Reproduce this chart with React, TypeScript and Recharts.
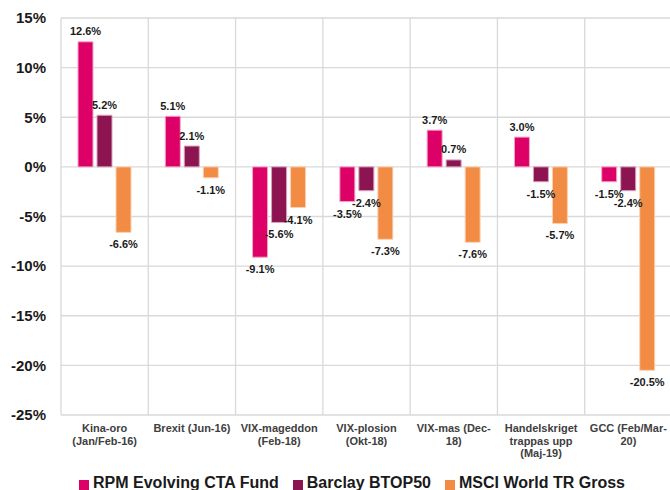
import React from "react";
import {
  BarChart,
  Bar,
  XAxis,
  YAxis,
  CartesianGrid,
  Legend,
  LabelList,
} from "recharts";

const FONT = "Arial, 'Liberation Sans', sans-serif";

// event names, line breaks as in the original axis labels
const categories = [
  "Kina-oro\n(Jan/Feb-16)",
  "Brexit (Jun-16)",
  "VIX-mageddon\n(Feb-18)",
  "VIX-plosion\n(Okt-18)",
  "VIX-mas (Dec-\n18)",
  "Handelskriget\ntrappas upp\n(Maj-19)",
  "GCC (Feb/Mar-\n20)",
];

const rpm = [12.6, 5.1, -9.1, -3.5, 3.7, 3.0, -1.5];
const btop50 = [5.2, 2.1, -5.6, -2.4, 0.7, -1.5, -2.4];
const msci = [-6.6, -1.1, -4.1, -7.3, -7.6, -5.7, -20.5];

const yTicks = [-25, -20, -15, -10, -5, 0, 5, 10, 15];

const seriesNames = ["RPM Evolving CTA Fund", "Barclay BTOP50", "MSCI World TR Gross"];
const seriesColors = ["#DC0067", "#8C1450", "#F28C45"];
const seriesStrokes = ["#F3A6C9", "#D6A2BC", "#FAD2B4"];

const data = categories.map((name, i) => ({
  name,
  rpm: rpm[i],
  btop: btop50[i],
  msci: msci[i],
}));

const XTick = (props: any) => {
  const { x, y, payload } = props;
  const lines = String(payload.value).split("\n");
  return (
    <text
      x={x}
      y={y}
      textAnchor="middle"
      fontFamily={FONT}
      fontSize={11}
      fontWeight="bold"
      fill="#404040"
    >
      {lines.map((l, i) => (
        <tspan key={i} x={x} dy={i === 0 ? 9 : 12.5}>
          {l}
        </tspan>
      ))}
    </text>
  );
};

const ValueLabel = (props: any) => {
  const { x, y, width, height, value } = props;
  const top = Math.min(y, y + height);
  const bottom = Math.max(y, y + height);
  const ty = value >= 0 ? top - 6.5 : bottom + 16;
  return (
    <text
      x={x + width / 2}
      y={ty}
      textAnchor="middle"
      fontFamily={FONT}
      fontSize={11}
      fontWeight="bold"
      fill="#1a1a1a"
    >
      {`${value.toFixed(1)}%`}
    </text>
  );
};

const LegendBox = () => (
  <div
    style={{
      display: "flex",
      justifyContent: "center",
      alignItems: "center",
      height: 20,
      lineHeight: "20px",
      fontFamily: FONT,
      fontSize: 16,
      fontWeight: "bold",
      color: "#1a1a1a",
      whiteSpace: "nowrap",
    }}
  >
    {seriesNames.map((n, i) => (
      <span
        key={n}
        style={{ display: "flex", alignItems: "center", marginLeft: i ? 14 : 0 }}
      >
        <span
          style={{
            width: 10,
            height: 10,
            background: seriesColors[i],
            marginRight: 4,
            marginTop: 3,
          }}
        />
        {n}
      </span>
    ))}
  </div>
);

export default function App() {
  return (
    <div
      style={{
        position: "absolute",
        left: 0,
        top: 0,
        width: 670,
        height: 490,
        overflow: "hidden",
        background: "#fff",
      }}
    >
      <BarChart
        width={700}
        height={490}
        data={data}
        margin={{ top: 18, right: 28, bottom: 0, left: 0 }}
        barCategoryGap={17}
        barGap={4}
      >
        <CartesianGrid
          stroke="#d9d9d9"
          strokeWidth={1.3}
          verticalCoordinatesGenerator={({ offset }: any) =>
            categories
              .concat([""])
              .map((_, i) => offset.left + (i * offset.width) / categories.length)
          }
        />
        <XAxis
          dataKey="name"
          axisLine={false}
          tickLine={false}
          height={55}
          interval={0}
          tick={<XTick />}
        />
        <YAxis
          domain={[-25, 15]}
          ticks={yTicks}
          width={61}
          axisLine={false}
          tickLine={false}
          tickMargin={9}
          tickFormatter={(v) => `${v}%`}
          tick={{ fontFamily: FONT, fontSize: 15, fontWeight: "bold", fill: "#1a1a1a" }}
        />
        <Legend
          verticalAlign="bottom"
          height={20}
          content={<LegendBox />}
          wrapperStyle={{ bottom: -3, left: 16 }}
        />
        <Bar dataKey="rpm" name={seriesNames[0]} fill={seriesColors[0]} stroke={seriesStrokes[0]} strokeWidth={1} isAnimationActive={false}>
          <LabelList dataKey="rpm" content={<ValueLabel />} />
        </Bar>
        <Bar dataKey="btop" name={seriesNames[1]} fill={seriesColors[1]} stroke={seriesStrokes[1]} strokeWidth={1} isAnimationActive={false}>
          <LabelList dataKey="btop" content={<ValueLabel />} />
        </Bar>
        <Bar dataKey="msci" name={seriesNames[2]} fill={seriesColors[2]} stroke={seriesStrokes[2]} strokeWidth={1} isAnimationActive={false}>
          <LabelList dataKey="msci" content={<ValueLabel />} />
        </Bar>
      </BarChart>
    </div>
  );
}
